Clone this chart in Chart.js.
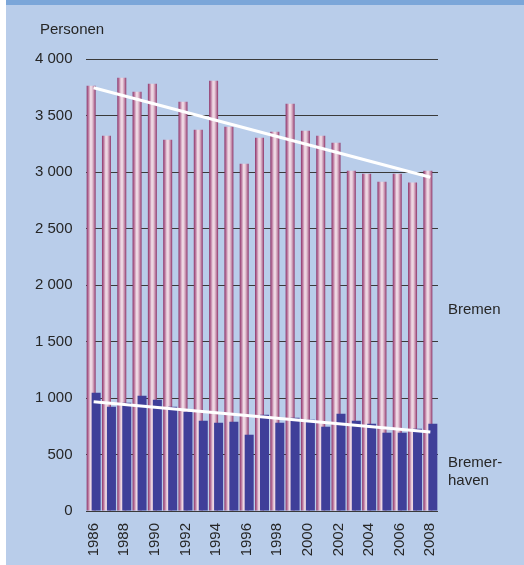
<!DOCTYPE html>
<html>
<head>
<meta charset="utf-8">
<script src="https://cdn.jsdelivr.net/npm/chart.js@4/dist/chart.umd.min.js"></script>
<style>
  body { margin: 0; background: #ffffff; }
  #box {
    position: absolute;
    left: 6px;
    top: 0;
    width: 518px;
    height: 560px;
    background: #b9cdea;
    border-top: 5px solid #7ba6d9;
  }
</style>
</head>
<body>
<div id="box"><canvas id="canvas" width="518" height="560"></canvas></div>
<script>
'use strict';

const years = [1986, 1987, 1988, 1989, 1990, 1991, 1992, 1993, 1994, 1995, 1996, 1997, 1998, 1999, 2000, 2001, 2002, 2003, 2004, 2005, 2006, 2007, 2008];
const bremen = [3764, 3321, 3835, 3711, 3781, 3286, 3622, 3374, 3808, 3401, 3073, 3304, 3357, 3604, 3366, 3321, 3259, 3011, 2985, 2914, 2985, 2906, 3011];
const bremerhaven = [1047, 923, 958, 1020, 985, 923, 879, 799, 781, 790, 675, 852, 781, 826, 808, 746, 861, 799, 773, 693, 693, 728, 773];

// trend lines, start and end year
const trendYears = [1986, 2008];
const bremenTrend = [3745, 2953];
const bremerhavenTrend = [967, 700];

const yTicks = [0, 500, 1000, 1500, 2000, 2500, 3000, 3500, 4000];

const textFont = '15px "Liberation Sans", Arial, sans-serif';
const textColor = '#262626';

// bars of the two cities sit a bit apart and overlap
const shift = 0.163;

function points(xs, ys, dx) {
  const out = [];
  for (let i = 0; i < xs.length; i++) {
    out.push({x: xs[i] + dx, y: ys[i]});
  }
  return out;
}

function formatThousands(v) {
  return String(v).replace(/\B(?=(\d{3})+(?!\d))/g, ' ');
}

// pink bars look like little cylinders
function pinkGradient(context) {
  const chart = context.chart;
  if (!chart.chartArea || !context.parsed) {
    return '#c98aab';
  }
  const px = chart.scales.x.getPixelForValue(context.parsed.x);
  const g = chart.ctx.createLinearGradient(px - 4.5, 0, px + 4.5, 0);
  g.addColorStop(0, '#8c3469');
  g.addColorStop(0.18, '#b7729a');
  g.addColorStop(0.42, '#efd9e4');
  g.addColorStop(0.58, '#ecd4e0');
  g.addColorStop(0.8, '#c38aa9');
  g.addColorStop(1, '#8c3469');
  return g;
}

const labelPlugin = {
  id: 'labels',
  afterDraw(chart) {
    const ctx = chart.ctx;
    const area = chart.chartArea;
    const y = chart.scales.y;
    ctx.save();
    ctx.font = textFont;
    ctx.fillStyle = textColor;
    ctx.textAlign = 'left';
    ctx.textBaseline = 'middle';
    ctx.fillText('Personen', 34, 25);
    ctx.fillText('Bremen', area.right + 10, y.getPixelForValue(1780));
    ctx.fillText('Bremer-', area.right + 10, y.getPixelForValue(430));
    ctx.fillText('haven', area.right + 10, y.getPixelForValue(430) + 18);
    ctx.restore();
  }
};

const ctx = document.getElementById('canvas').getContext('2d');
new Chart(ctx, {
  type: 'bar',
  data: {
    datasets: [
      {
        type: 'line',
        label: 'Trend Bremen',
        data: points(trendYears, bremenTrend, 0),
        borderColor: '#ffffff',
        borderWidth: 3,
        pointRadius: 0,
        order: 0
      },
      {
        type: 'line',
        label: 'Trend Bremerhaven',
        data: points(trendYears, bremerhavenTrend, 0),
        borderColor: '#ffffff',
        borderWidth: 3,
        pointRadius: 0,
        order: 0
      },
      {
        label: 'Bremerhaven',
        data: points(years, bremerhaven, shift),
        backgroundColor: '#3f3f99',
        grouped: false,
        categoryPercentage: 1,
        barPercentage: 4,
        maxBarThickness: 9,
        order: 1
      },
      {
        label: 'Bremen',
        data: points(years, bremen, -shift),
        backgroundColor: pinkGradient,
        grouped: false,
        categoryPercentage: 1,
        barPercentage: 4,
        maxBarThickness: 9,
        order: 2
      }
    ]
  },
  options: {
    responsive: false,
    animation: false,
    layout: {padding: {top: 54, right: 86, bottom: 0, left: 0}},
    plugins: {
      legend: {display: false},
      tooltip: {enabled: false}
    },
    scales: {
      x: {
        type: 'linear',
        offset: false,
        min: 1985.5,
        max: 2008.5,
        grid: {display: false, drawTicks: false},
        border: {display: false},
        ticks: {
          stepSize: 2,
          includeBounds: false,
          autoSkip: false,
          minRotation: 90,
          maxRotation: 90,
          padding: 12,
          color: textColor,
          font: {family: '"Liberation Sans", Arial, sans-serif', size: 15},
          callback: function(v) { return String(v); }
        },
        afterFit: function(scale) { scale.height = 54; }
      },
      y: {
        min: 0,
        max: 4000,
        afterBuildTicks: function(scale) {
          scale.ticks = yTicks.map(function(v) { return {value: v}; });
        },
        grid: {color: '#3a3a3a', lineWidth: 1, drawTicks: false},
        border: {display: false},
        ticks: {
          padding: 13.5,
          color: textColor,
          font: {family: '"Liberation Sans", Arial, sans-serif', size: 15},
          callback: function(v) { return formatThousands(v); }
        },
        afterFit: function(scale) { scale.width = 80; }
      }
    }
  },
  plugins: [labelPlugin]
});
</script>
</body>
</html>
